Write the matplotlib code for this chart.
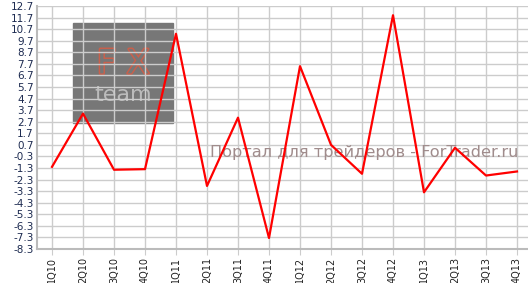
import matplotlib
matplotlib.use("Agg")
import matplotlib.pyplot as plt
import matplotlib.patheffects as pe
import numpy as np

categories = ["1Q10", "2Q10", "3Q10", "4Q10", "1Q11", "2Q11", "3Q11", "4Q11",
              "1Q12", "2Q12", "3Q12", "4Q12", "1Q13", "2Q13", "3Q13", "4Q13"]
values = [-1.2, 3.4, -1.45, -1.4, 10.3, -2.85, 3.05, -7.35,
          7.5, 0.7, -1.8, 11.9, -3.4, 0.45, -1.95, -1.6]
y_ticks = [round(-8.3 + k, 1) for k in range(22)]

fig = plt.figure(figsize=(5.28, 2.83), dpi=100)
ax = fig.add_axes([36.5 / 528, 34 / 283, 496 / 528, 243 / 283])
x = np.arange(len(categories))

ax.set_xlim(-0.5, len(categories) - 0.5)
ax.set_ylim(-8.3, 12.7)
ax.set_yticks(y_ticks)
ax.set_yticklabels([f"{v:.1f}" for v in y_ticks], color="#1c2a50", fontsize=7.5)
ax.set_xticks(x)
ax.set_xticklabels(categories, rotation=90, fontsize=7, color="#222222")
ax.grid(True, color="#cccccc", linewidth=1.0, zorder=0.5)
ax.set_axisbelow(True)
for s in ["top", "right"]:
    ax.spines[s].set_visible(False)
for s in ["left", "bottom"]:
    ax.spines[s].set_color("#bbbbbb")
    ax.spines[s].set_linewidth(1.5)
ax.tick_params(axis="y", length=0, pad=2)
ax.tick_params(axis="x", length=4, color="#cccccc", pad=2)

# watermark box (behind grid)
ax.add_patch(plt.Rectangle((0.68, 2.6), 3.22, 8.6, color="#777777", zorder=0.2))
ax.text(2.3, 7.7, "F X", color="#777777", fontsize=24, ha="center", va="center",
        zorder=0.3,
        path_effects=[pe.withStroke(linewidth=2.2, foreground="#c8604c")])
ax.text(2.3, 5.0, "team", color="#bbbbbb", fontsize=16, ha="center", va="center",
        zorder=0.3)

ax.text(5.1, 0.0, "Портал для трейдеров - ForTrader.ru", color="#a08c8c",
        fontsize=11.6, ha="left", va="center", zorder=3)

ax.plot(x, values, color="#ff0000", linewidth=1.6, zorder=4, clip_on=False)

fig.savefig("out.png", dpi=100)
